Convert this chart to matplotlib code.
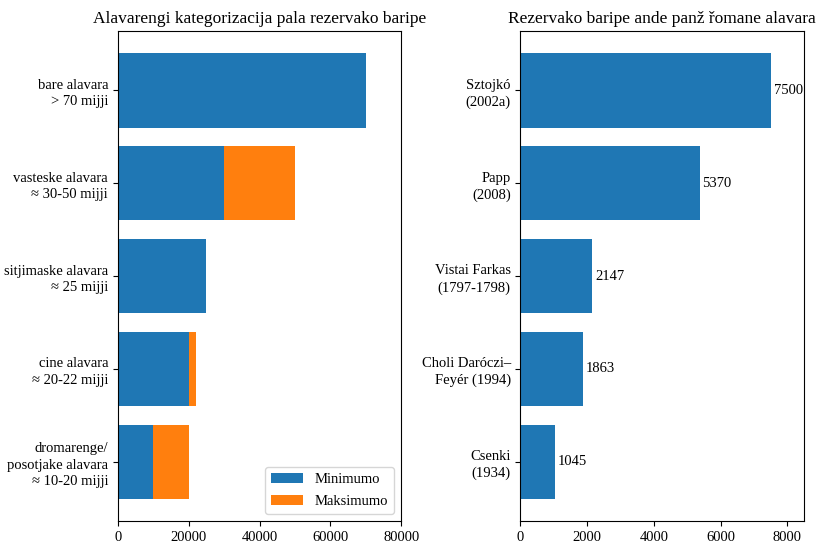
import numpy as np
import matplotlib
matplotlib.use("Agg")
import matplotlib.pyplot as plt

plt.rcParams["font.family"] = ["Liberation Serif", "DejaVu Serif"]
plt.rcParams["font.size"] = 10.5

# Left chart data
categories = [
    "bare alavara\n> 70 mijji",
    "vasteske alavara\n≈ 30-50 mijji",
    "sitjimaske alavara\n≈ 25 mijji",
    "cine alavara\n≈ 20-22 mijji",
    "dromarenge/\nposotjake alavara\n≈ 10-20 mijji",
]
minimum = [70000, 30000, 25000, 20000, 10000]
maximum = [70000, 50000, 25000, 22000, 20000]

# Right chart data
sources = [
    "Sztojkó\n(2002a)",
    "Papp\n(2008)",
    "Vistai Farkas\n(1797-1798)",
    "Choli Daróczi–\nFeyér (1994)",
    "Csenki\n(1934)",
]
entries = [7500, 5370, 2147, 1863, 1045]

fig, (ax1, ax2) = plt.subplots(1, 2, figsize=(8.18, 5.43), dpi=100)
fig.subplots_adjust(left=0.144, right=0.983, top=0.943, bottom=0.04, wspace=0.42)

y = np.arange(len(categories))
extra = [mx - mn for mn, mx in zip(minimum, maximum)]
ax1.barh(y, minimum, height=0.8, color="#1f77b4", label="Minimumo")
ax1.barh(y, extra, left=minimum, height=0.8, color="#ff7f0e", label="Maksimumo")
ax1.set_yticks(y)
ax1.set_yticklabels(categories, linespacing=1.35)
ax1.invert_yaxis()
ax1.set_xlim(0, 80000)
ax1.set_xticks([0, 20000, 40000, 60000, 80000])
ax1.set_title("Alavarengi kategorizacija pala rezervako baripe", fontsize=12.5)
ax1.legend(loc="lower right", handlelength=2.2, labelspacing=0.6)

y2 = np.arange(len(sources))
bars = ax2.barh(y2, entries, height=0.8, color="#1f77b4")
ax2.set_yticks(y2)
ax2.set_yticklabels(sources, linespacing=1.35)
ax2.invert_yaxis()
ax2.set_xlim(0, 8500)
ax2.set_xticks([0, 2000, 4000, 6000, 8000])
ax2.bar_label(bars, labels=[str(v) for v in entries], padding=2)
ax2.set_title("Rezervako baripe ande panž řomane alavara", fontsize=12.5)

plt.savefig("out.png", dpi=100)
